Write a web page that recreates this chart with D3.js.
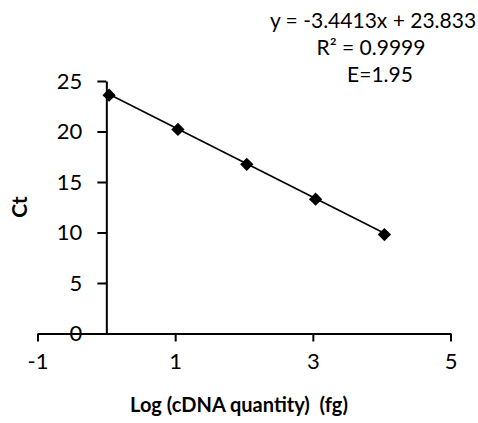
<!DOCTYPE html>
<html>
<head>
<meta charset="utf-8">
<script src="https://cdn.jsdelivr.net/npm/d3@7"></script>
<style>
  body { margin: 0; background: #fff; }
  text { font-family: Lato, "Open Sans", sans-serif; fill: #000; }
</style>
</head>
<body>
<script>
//Width and height
var w = 478;
var h = 423;

//data
var logQuantity = [0.04, 1.04, 2.04, 3.04, 4.04];
var ctValues = [23.6, 20.2, 16.75, 13.3, 9.8];
var xTicks = [-1, 1, 3, 5];
var yTicks = [0, 5, 10, 15, 20, 25];
var slope = -3.4413;
var intercept = 23.833;
var labelLines = ["y = -3.4413x + 23.833", "R\u00B2 = 0.9999", "E=1.95"];

var xScale = d3.scaleLinear()
    .domain([-1, 5])
    .range([37.5, 450.5]);

var yScale = d3.scaleLinear()
    .domain([0, 25])
    .range([333.5, 81]);

var svg = d3.select("body")
    .append("svg")
    .attr("width", w)
    .attr("height", h);

//plain hyphen minus like the original, not the unicode one d3 uses
var plainFormat = function(d) { return String(d); };

//x axis sits at y = 0
svg.append("g")
    .attr("transform", "translate(0," + yScale(0) + ")")
    .call(d3.axisBottom(xScale).tickValues(xTicks).tickFormat(plainFormat)
        .tickSize(8).tickPadding(12).tickSizeOuter(0));

//y axis sits at x = 0
svg.append("g")
    .attr("transform", "translate(" + xScale(0) + ",0)")
    .call(d3.axisLeft(yScale).tickValues(yTicks).tickFormat(plainFormat)
        .tickSize(9).tickPadding(15).tickSizeOuter(0));

svg.selectAll(".domain, .tick line")
    .attr("stroke", "#000")
    .attr("stroke-width", 2);

svg.selectAll(".tick text")
    .attr("font-family", "Lato, sans-serif")
    .attr("font-size", "22px")
    .attr("fill", "#000");

//trendline over the data range
var xMin = d3.min(logQuantity);
var xMax = d3.max(logQuantity);
svg.append("line")
    .attr("x1", xScale(xMin))
    .attr("y1", yScale(slope * xMin + intercept))
    .attr("x2", xScale(xMax))
    .attr("y2", yScale(slope * xMax + intercept))
    .attr("stroke", "#000")
    .attr("stroke-width", 1.6);

//diamond markers
svg.selectAll("path.pt")
    .data(logQuantity)
    .enter()
    .append("path")
    .attr("class", "pt")
    .attr("d", d3.symbol(d3.symbolSquare, 88))
    .attr("transform", function(d, i) {
        return "translate(" + xScale(d) + "," + yScale(ctValues[i]) + ") rotate(45)";
    })
    .attr("fill", "#000");

//axis titles
svg.append("text")
    .attr("transform", "translate(27,207) rotate(-90)")
    .attr("text-anchor", "middle")
    .attr("font-size", "21px")
    .attr("font-weight", "bold")
    .text("Ct");

svg.append("text")
    .attr("x", 239)
    .attr("y", 412)
    .attr("text-anchor", "middle")
    .attr("font-size", "20px")
    .attr("font-weight", "bold")
    .style("white-space", "pre")
    .text("Log (cDNA quantity)  (fg)");

//equation label
var labelX = [373, 371, 380];
var labelY = [28, 55, 82];
svg.selectAll("text.eq")
    .data(labelLines)
    .enter()
    .append("text")
    .attr("class", "eq")
    .attr("x", function(d, i) { return labelX[i]; })
    .attr("y", function(d, i) { return labelY[i]; })
    .attr("text-anchor", "middle")
    .attr("font-size", "21px")
    .text(function(d) { return d; });
</script>
</body>
</html>
